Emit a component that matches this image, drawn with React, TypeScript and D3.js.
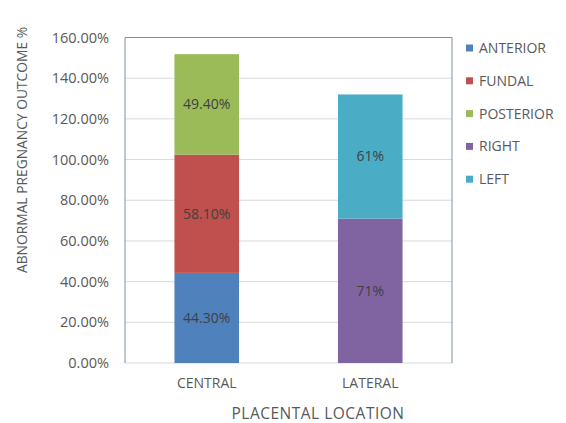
import React from "react";
import * as d3 from "d3";

const categories = ["CENTRAL", "LATERAL"];
const seriesNames = ["ANTERIOR", "FUNDAL", "POSTERIOR", "RIGHT", "LEFT"];
const seriesColors = ["#4F81BD", "#C0504D", "#9BBB59", "#8064A2", "#4BACC6"];
// values per series, aligned to categories (null = not present)
const anterior = [44.3, null];
const fundal = [58.1, null];
const posterior = [49.4, null];
const right = [null, 71];
const left = [null, 61];
const labelText = [
  ["44.30%", ""],
  ["58.10%", ""],
  ["49.40%", ""],
  ["", "71%"],
  ["", "61%"],
];
const yTicks = [0, 20, 40, 60, 80, 100, 120, 140, 160];

const W = 566;
const H = 423;
const plot = { left: 125, right: 452, top: 37.5, bottom: 363 };
const font = "'Open Sans', 'DejaVu Sans', sans-serif";

export default function App() {
  const series = [anterior, fundal, posterior, right, left];
  const x = d3
    .scaleBand<string>()
    .domain(categories)
    .range([plot.left, plot.right])
    .paddingInner(0.605)
    .paddingOuter(0.3025);
  const y = d3.scaleLinear().domain([0, 160]).range([plot.bottom, plot.top]);

  const rects: React.ReactNode[] = [];
  const labels: React.ReactNode[] = [];
  categories.forEach((cat, ci) => {
    let base = 0;
    series.forEach((vals, si) => {
      const v = vals[ci];
      if (v == null) return;
      const y0 = y(base);
      const y1 = y(base + v);
      rects.push(
        <rect
          key={`r${ci}-${si}`}
          x={x(cat)}
          y={y1}
          width={x.bandwidth()}
          height={y0 - y1}
          fill={seriesColors[si]}
        />
      );
      labels.push(
        <text
          key={`l${ci}-${si}`}
          x={(x(cat) as number) + x.bandwidth() / 2}
          y={(y0 + y1) / 2}
          dy="0.35em"
          textAnchor="middle"
          fontSize={14}
          fill="#404040"
        >
          {labelText[si][ci]}
        </text>
      );
      base += v;
    });
  });

  return (
    <svg
      width={W}
      height={H}
      style={{ position: "absolute", left: 0, top: 0, background: "#fff" }}
      fontFamily={font}
    >
      {yTicks.map((t) => (
        <line
          key={`g${t}`}
          x1={plot.left}
          x2={plot.right}
          y1={y(t)}
          y2={y(t)}
          stroke="#D9D9D9"
          strokeWidth={1}
        />
      ))}
      {yTicks.map((t) => (
        <text
          key={`t${t}`}
          x={109}
          y={y(t)}
          dy="0.35em"
          textAnchor="end"
          fontSize={14.5}
          fill="#595959"
        >
          {t.toFixed(2) + "%"}
        </text>
      ))}
      {rects}
      {labels}
      <path
        d={`M${plot.left},${plot.bottom}V${plot.top}H${plot.right}V${plot.bottom}`}
        fill="none"
        stroke="#7F8FA9"
        strokeWidth={1}
      />
      {categories.map((c) => (
        <text
          key={`c${c}`}
          x={(x(c) as number) + x.bandwidth() / 2}
          y={383}
          dy="0.35em"
          textAnchor="middle"
          fontSize={14}
          fill="#595959"
        >
          {c}
        </text>
      ))}
      <text
        x={318}
        y={414}
        dy="0.35em"
        textAnchor="middle"
        fontSize={15.5}
        letterSpacing={0.5}
        fill="#595959"
      >
        PLACENTAL LOCATION
      </text>
      <text
        transform={`translate(22,150) rotate(-90)`}
        dy="0.35em"
        textAnchor="middle"
        fontSize={13.8}
        fill="#595959"
      >
        ABNORMAL PREGNANCY OUTCOME %
      </text>
      {seriesNames.map((n, i) => {
        const ly = 48 + i * 32.8;
        return (
          <g key={`lg${n}`}>
            <rect x={466} y={ly - 3.5} width={7} height={7} fill={seriesColors[i]} />
            <text x={479} y={ly} dy="0.35em" fontSize={14} fill="#595959">
              {n}
            </text>
          </g>
        );
      })}
    </svg>
  );
}
